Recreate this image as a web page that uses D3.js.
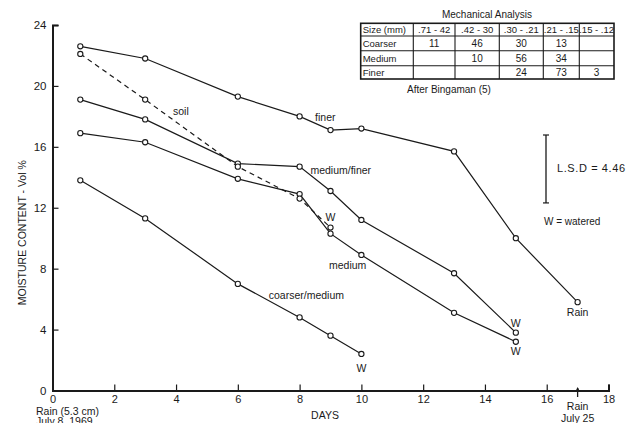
<!DOCTYPE html>
<html><head><meta charset="utf-8">
<script src="https://cdn.jsdelivr.net/npm/d3@7"></script>
<style>
html,body{margin:0;padding:0;background:#fff;}
svg{display:block;font-family:"Liberation Sans",Arial,sans-serif;}
</style></head>
<body><svg id="c" width="640" height="423"></svg>
<script>
// ---- data ----
const xTicks = [0,2,4,6,8,10,12,14,16,18];
const yTicks = [0,4,8,12,16,20,24];

const finerDays = [0.9,3,6,8,9,10,13,15,17];
const finerVals = [22.6,21.8,19.3,18.0,17.1,17.2,15.7,10.0,5.8];

const medFinerDays = [0.9,3,6,8,9,10,13,15];
const medFinerVals = [19.1,17.8,14.9,14.7,13.1,11.2,7.7,3.8];

const mediumDays = [0.9,3,6,8,9,10,13,15];
const mediumVals = [16.9,16.3,13.9,12.9,10.3,8.9,5.1,3.2];

const coarserDays = [0.9,3,6,8,9,10];
const coarserVals = [13.8,11.3,7.0,4.8,3.6,2.4];

const soilDays = [0.9,3,6,8,9];
const soilVals = [22.1,19.1,14.7,12.6,10.7];

const tableHeader = ["Size (mm)", ".71 - 42", ".42 - 30", ".30 - .21", ".21 - .15", ".15 - .12"];
const tableRows = ["Coarser","Medium","Finer"];
const tableCoarser = ["11","46","30","13",""];
const tableMedium = ["","10","56","34",""];
const tableFiner = ["","","24","73","3"];

// ---- drawing ----
const svg = d3.select("#c");
const ink = "#1a1a1a";
const x = d3.scaleLinear().domain([0,18]).range([52.5,608.5]);
const y = d3.scaleLinear().domain([0,24]).range([390.5,25]);

// axes
const xAxis = d3.axisBottom(x).tickValues(xTicks).tickSize(-6).tickPadding(3)
  .tickFormat(d => d);
const gx = svg.append("g").attr("transform",`translate(0,${y(0)})`).call(xAxis);
gx.select(".domain").attr("stroke",ink).attr("stroke-width",2);
gx.selectAll(".tick line").attr("stroke",ink).attr("stroke-width",1.2);
gx.selectAll(".tick text").attr("font-size",11).attr("fill",ink).attr("dy","0.85em");

const yAxis = d3.axisLeft(y).tickValues(yTicks).tickSize(-6).tickPadding(6);
const gy = svg.append("g").attr("transform",`translate(${x(0)},0)`).call(yAxis);
gy.select(".domain").attr("stroke",ink).attr("stroke-width",2);
gy.selectAll(".tick line").attr("stroke",ink).attr("stroke-width",1.2);
gy.selectAll(".tick text").attr("font-size",11.5).attr("fill",ink);

// axis titles
svg.append("text").attr("transform",`translate(26,${(y(0)+y(24))/2+25}) rotate(-90)`)
  .attr("text-anchor","middle").attr("font-size",10.5).attr("fill",ink)
  .text("MOISTURE CONTENT - Vol %");
svg.append("text").attr("x",325).attr("y",419).attr("text-anchor","middle")
  .attr("font-size",10.5).attr("fill",ink).text("DAYS");
svg.append("text").attr("x",36).attr("y",414.5).attr("font-size",10.5).attr("fill",ink).text("Rain (5.3 cm)");
svg.append("text").attr("x",36).attr("y",425).attr("font-size",10.5).attr("fill",ink).text("July 8, 1969");
svg.append("text").attr("x",x(17)).attr("y",410).attr("text-anchor","middle").attr("font-size",10.5).attr("fill",ink).text("Rain");
svg.append("text").attr("x",x(17)).attr("y",421.5).attr("text-anchor","middle").attr("font-size",10.5).attr("fill",ink).text("July 25");
// rain arrow
svg.append("line").attr("x1",x(17)).attr("x2",x(17)).attr("y1",397).attr("y2",388).attr("stroke",ink).attr("stroke-width",1.3);
svg.append("path").attr("d",`M${x(17)-2.5},${392} L${x(17)},${387} L${x(17)+2.5},${392}Z`).attr("fill",ink);

// series
const series = [
  {d:finerDays, v:finerVals, dash:null},
  {d:medFinerDays, v:medFinerVals, dash:null},
  {d:mediumDays, v:mediumVals, dash:null},
  {d:coarserDays, v:coarserVals, dash:null},
  {d:soilDays, v:soilVals, dash:"5,4"}
];
const line = d3.line().x(p=>x(p[0])).y(p=>y(p[1]));
series.forEach(s=>{
  const pts = s.d.map((d,i)=>[d,s.v[i]]);
  svg.append("path").attr("d",line(pts)).attr("fill","none").attr("stroke",ink)
    .attr("stroke-width",1.2).attr("stroke-dasharray",s.dash);
  svg.selectAll(null).data(pts).enter().append("circle")
    .attr("cx",p=>x(p[0])).attr("cy",p=>y(p[1])).attr("r",2.6)
    .attr("fill","#fff").attr("stroke",ink).attr("stroke-width",1.1);
});

// labels
function lab(t,dx,dy,anchor){
  svg.append("text").attr("x",x(dx)).attr("y",y(dy)).attr("font-size",10.5)
    .attr("text-anchor",anchor||"start").attr("fill",ink).text(t);
}
lab("soil",3.9,18.1);
lab("finer",8.5,17.7);
lab("medium/finer",8.35,14.2);
lab("medium",8.95,8.0);
lab("coarser/medium",7.0,6.0);
lab("Rain",17,4.9,"middle");
lab("W",9,11.1,"middle");
lab("W",15,4.15,"middle");
lab("W",15,2.3,"middle");
lab("W",10,1.2,"middle");

// LSD bar
const lsdTop = 135;
const lsdLen = y(0)-y(4.46);
svg.append("line").attr("x1",546).attr("x2",546).attr("y1",lsdTop).attr("y2",lsdTop + lsdLen)
  .attr("stroke",ink).attr("stroke-width",1.3);
svg.append("line").attr("x1",543).attr("x2",549).attr("y1",lsdTop).attr("y2",lsdTop).attr("stroke",ink).attr("stroke-width",1.2);
svg.append("line").attr("x1",543).attr("x2",549).attr("y1",lsdTop+lsdLen).attr("y2",lsdTop+lsdLen).attr("stroke",ink).attr("stroke-width",1.2);
svg.append("text").attr("x",557).attr("y",172).attr("font-size",11).attr("letter-spacing",0.6).attr("fill",ink).text("L.S.D = 4.46");
svg.append("text").attr("x",544).attr("y",225).attr("font-size",10).attr("fill",ink).text("W = watered");

// table
const colX = [360.7,413.3,455,499.3,543.3,579.3,614];
const rowY = [23.3,36,50.7,65.7,79];
svg.append("text").attr("x",487).attr("y",17.5).attr("text-anchor","middle").attr("font-size",10).attr("fill",ink).text("Mechanical Analysis");
const tg = svg.append("g");
tg.append("rect").attr("x",colX[0]).attr("y",rowY[0]).attr("width",colX[6]-colX[0]).attr("height",rowY[4]-rowY[0])
  .attr("fill","none").attr("stroke",ink).attr("stroke-width",1.6);
colX.slice(1,6).forEach(cx=>tg.append("line").attr("x1",cx).attr("x2",cx).attr("y1",rowY[0]).attr("y2",rowY[4]).attr("stroke",ink).attr("stroke-width",1.1));
rowY.slice(1,4).forEach(ry=>tg.append("line").attr("x1",colX[0]).attr("x2",colX[6]).attr("y1",ry).attr("y2",ry).attr("stroke",ink).attr("stroke-width",1.1));
tableHeader.forEach((h,i)=>{
  tg.append("text").attr("x", i===0 ? colX[0]+2 : (colX[i]+colX[i+1])/2).attr("y",rowY[0]+10)
    .attr("text-anchor", i===0 ? "start" : "middle").attr("font-size",9.5).attr("fill",ink).text(h);
});
const rowsVals = [tableCoarser,tableMedium,tableFiner];
tableRows.forEach((r,ri)=>{
  const yy = (rowY[ri+1]+rowY[ri+2])/2+3.5;
  tg.append("text").attr("x",colX[0]+2).attr("y",yy).attr("font-size",9.5).attr("fill",ink).text(r);
  rowsVals[ri].forEach((v,ci)=>{
    tg.append("text").attr("x",(colX[ci+1]+colX[ci+2])/2).attr("y",yy).attr("text-anchor","middle")
      .attr("font-size",10).attr("fill",ink).text(v);
  });
});
svg.append("text").attr("x",407).attr("y",93).attr("font-size",10).attr("fill",ink).text("After Bingaman (5)");
</script></body></html>
